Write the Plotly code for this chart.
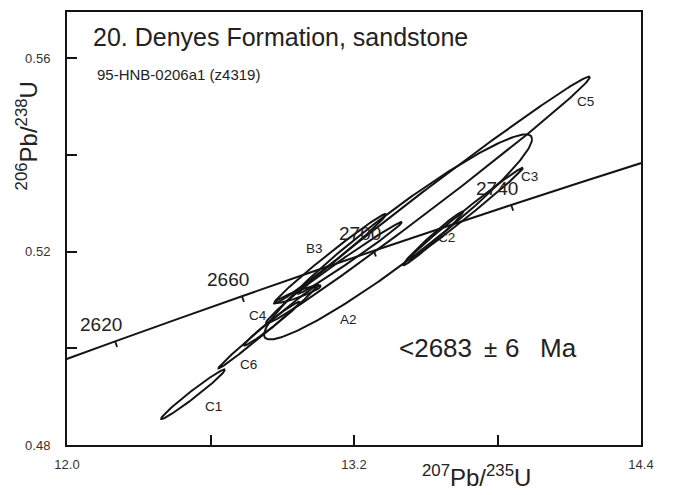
import numpy as np
import plotly.graph_objects as go

# ---------------- data ----------------
# Concordia curve (207Pb/235U, 206Pb/238U) tabulated by age (Ma)
conc_age = [2600, 2620, 2640, 2660, 2680, 2700, 2720, 2740, 2760, 2780]
conc_x = [11.9437, 12.2012, 12.4638, 12.7316, 13.0048, 13.2833, 13.5675, 13.8572, 14.1528, 14.4542]
conc_y = [0.496793, 0.501445, 0.506111, 0.510791, 0.515484, 0.520195, 0.524917, 0.529657, 0.534410, 0.539178]
tick_ages = [2620, 2660, 2700, 2740]

# Error ellipses: centre, half-extent in x and y, correlation
ell_name = ["C1", "C6", "C4", "A2", "C5", "B3", "", "", "C2", "C3"]
ell_x = [12.527, 12.8425, 12.857, 13.384, 13.509, 13.0996, 13.1833, 12.9658, 13.5303, 13.6683]
ell_ex = [0.1338, 0.2091, 0.1171, 0.5603, 0.6773, 0.2341, 0.2174, 0.0962, 0.1254, 0.2383]
ell_y = [0.49051, 0.50452, 0.50513, 0.52306, 0.53068, 0.51853, 0.51873, 0.51121, 0.52275, 0.5279]
ell_ey = [0.00515, 0.00865, 0.00453, 0.02122, 0.02555, 0.00927, 0.00742, 0.00185, 0.00556, 0.00948]
ell_rho = [0.984, 0.9955, 0.983, 0.954, 0.9953, 0.991, 0.9938, 0.92, 0.986, 0.995]

# ellipse label positions (data coords)
lab_name = ["C1", "C6", "C4", "A2", "B3", "C2", "C3", "C5"]
lab_x = [12.6146, 12.7568, 12.7986, 13.1749, 13.0369, 13.5888, 13.9317, 14.170]
lab_y = [0.48803, 0.49669, 0.50678, 0.50596, 0.52058, 0.52285, 0.53562, 0.55107]

x_tickvals = [12.0, 12.6, 13.2, 13.8, 14.4]
x_ticktext = ["12.0", "", "13.2", "", "14.4"]
y_tickvals = [0.48, 0.50, 0.52, 0.54, 0.56]
y_ticktext = ["0.48", "", "0.52", "", "0.56"]

X_RANGE = [12.0, 14.4]
Y_RANGE = [0.48, 0.5696]

# ---------------- figure ----------------
# page body has an 8px margin; figure is sized/offset to compensate
W, H = 666, 487
ML, MR, MT, MB = 59, 33, 2, 50
PL, PR, PT, PB = 67, 641, 10, 445   # plot area in page pixels
px_per_x = (PR - PL) / (X_RANGE[1] - X_RANGE[0])
px_per_y = (PB - PT) / (Y_RANGE[1] - Y_RANGE[0])

INK = "#141414"
FONT = "Arial, Liberation Sans, Helvetica, sans-serif"

fig = go.Figure()

# concordia
fig.add_trace(go.Scatter(x=conc_x, y=conc_y, mode="lines",
                         line=dict(color=INK, width=2, shape="spline"),
                         hoverinfo="skip", showlegend=False))

# concordia age ticks
tx, ty = [], []
for a in tick_ages:
    i = conc_age.index(a)
    x0, y0 = conc_x[i], conc_y[i]
    tx += [x0, x0 + 2.0 / px_per_x, None]
    ty += [y0, y0 - 5.7 / px_per_y, None]
fig.add_trace(go.Scatter(x=tx, y=ty, mode="lines", line=dict(color=INK, width=1.8),
                         hoverinfo="skip", showlegend=False))

# ellipses
th = np.linspace(0, 2 * np.pi, 240)
for n, cx, ex, cy, ey, r in zip(ell_name, ell_x, ell_ex, ell_y, ell_ey, ell_rho):
    xs = cx + ex * np.cos(th)
    ys = cy + ey * (r * np.cos(th) + np.sqrt(1 - r * r) * np.sin(th))
    fig.add_trace(go.Scatter(x=xs, y=ys, mode="lines", line=dict(color=INK, width=2),
                             hoverinfo="skip", showlegend=False, name=n))

annotations = []
# ellipse labels
for n, x, y in zip(lab_name, lab_x, lab_y):
    annotations.append(dict(x=x, y=y, xref="x", yref="y", text=n, showarrow=False,
                            font=dict(family=FONT, size=13.5, color="#222")))
# age labels
for a in tick_ages:
    i = conc_age.index(a)
    annotations.append(dict(x=conc_x[i], y=conc_y[i], xref="x", yref="y", text=str(a),
                            showarrow=False, xshift=-14, yshift=17,
                            font=dict(family=FONT, size=19, color="#222")))


def px2paper(px, py):
    return (px - PL) / (PR - PL), (PB - py) / (PB - PT)


def add_text(px, py, text, size, xanchor="left", angle=0):
    x0, y0 = px2paper(px, py)
    annotations.append(dict(x=x0, y=y0, xref="paper", yref="paper", xanchor=xanchor,
                            yanchor="middle", text=text, showarrow=False, textangle=angle,
                            font=dict(family=FONT, size=size, color="#222")))


add_text(91, 35, "20. Denyes Formation, sandstone", 25)
add_text(95, 73, "95-HNB-0206a1 (z4319)", 15)
add_text(397, 348, "&lt;2683", 26)
add_text(490, 348, "\u00b1", 24, xanchor="center")
add_text(512, 348, "6", 26, xanchor="center")
add_text(538, 348, "Ma", 26)
add_text(27, 135, "<sup>206</sup>Pb/<sup>238</sup>U", 24, xanchor="center", angle=-90)
add_text(476, 476, "<sup>207</sup>Pb/<sup>235</sup>U", 24, xanchor="center")

fig.update_layout(
    width=W, height=H,
    margin=dict(l=ML, r=MR, t=MT, b=MB),
    paper_bgcolor="white", plot_bgcolor="white",
    showlegend=False,
    annotations=annotations,
    xaxis=dict(range=X_RANGE, showgrid=False, zeroline=False, showline=True, mirror=True,
               linecolor=INK, linewidth=2, ticks="inside", ticklen=10, tickwidth=2, tickcolor=INK,
               tickvals=x_tickvals, ticktext=x_ticktext, ticklabelstandoff=6,
               tickfont=dict(family=FONT, size=13, color="#333")),
    yaxis=dict(range=Y_RANGE, showgrid=False, zeroline=False, showline=True, mirror=True,
               linecolor=INK, linewidth=2, ticks="inside", ticklen=10, tickwidth=2, tickcolor=INK,
               tickvals=y_tickvals, ticktext=y_ticktext, ticklabelstandoff=12,
               tickfont=dict(family=FONT, size=13, color="#333")),
)

fig.write_html("out.html")
